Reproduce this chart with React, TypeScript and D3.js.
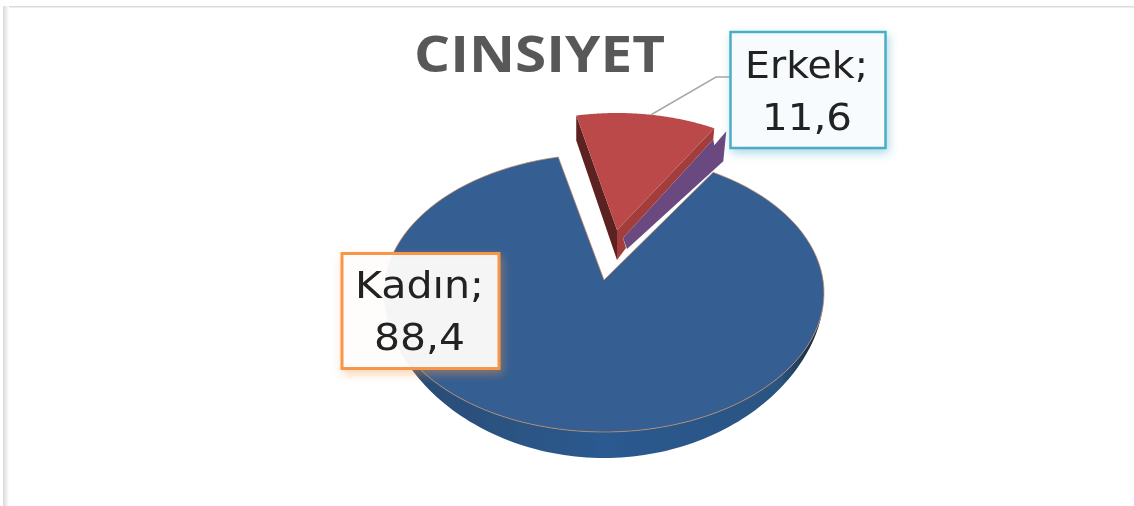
import React from "react";
import * as d3 from "d3";

const categories = ["Erkek", "Kadın"];
const values = [11.6, 88.4];
const valueLabels = ["11,6", "88,4"];
const title = "CINSIYET";

const W = 1134;
const H = 506;
const FONT = "'Open Sans', 'Noto Sans', sans-serif";
const LABEL_FONT = "'DejaVu Sans', sans-serif";
const rad = (deg: number) => (deg * Math.PI) / 180;

const arcs = d3
  .pie<number>()
  .sort(null)
  .startAngle(rad(-12))
  .endAngle(rad(348))(values);

type Disc = { cx: number; cy: number; rx: number; ry: number; ax: number; ay: number };
const blue: Disc = { cx: 604, cy: 293, rx: 220, ry: 139, ax: 604, ay: 280 };
const red: Disc = { cx: 617, cy: 229, rx: 196, ry: 116, ax: 617, ay: 230 };
const DEPTH = 26;

const rim = (d: Disc, a: number, dy = 0): [number, number] => [
  d.cx + d.rx * Math.sin(a),
  d.cy - d.ry * Math.cos(a) + dy,
];
const sample = (a0: number, a1: number) =>
  d3.range(0, 121).map((i) => d3.interpolateNumber(a0, a1)(i / 120));
const line = d3.line<[number, number]>();
const add = (p: [number, number], dx: number, dy: number): [number, number] => [p[0] + dx, p[1] + dy];
const depthAt = (a: number) => DEPTH * Math.pow(Math.max(0, -Math.cos(a)), 1.5);

const redArc = arcs[0];
const blueArc = arcs[1];

const blueTop =
  line([[blue.ax, blue.ay], ...sample(blueArc.startAngle, blueArc.endAngle).map((a) => rim(blue, a))])! + "Z";
const blueSide =
  line([
    ...sample(rad(90), rad(270)).map((a) => rim(blue, a)),
    ...sample(rad(270), rad(90)).map((a) => rim(blue, a, depthAt(a))),
  ])! + "Z";
const redTop =
  line([[red.ax, red.ay], ...sample(redArc.startAngle, redArc.endAngle).map((a) => rim(red, a))])! + "Z";

const rS = rim(red, redArc.startAngle);
const rE = rim(red, redArc.endAngle);
const rA: [number, number] = [red.ax, red.ay];

const redLeft = line([rS, add(rS, 0, 25), add(rA, 0, 30), rA])! + "Z";
const redRight = line([rE, add(rE, -1, 11), add(rA, 6, 8), add(rA, 9, 18), add(rA, 0, 30), rA])! + "Z";
const purple = line([add(rE, 12, 3), add(rE, 9, 33), add(rA, 10, 19), add(rA, 6, 8), add(rE, -1, 11), add(rE, 0, 17)])! + "Z";
const leader = line([rim(red, rad(10)), [716, 77], [731, 77]])!;

export default function App() {
  return (
    <svg
      width={W}
      height={H}
      viewBox={`0 0 ${W} ${H}`}
      style={{ position: "absolute", left: 0, top: 0, background: "#fff" }}
    >
      <defs>
        <filter id="soft" x="0" y="0" width="100%" height="100%">
          <feGaussianBlur stdDeviation="0.6" />
        </filter>
        <filter id="shadowTeal" x="-15%" y="-15%" width="130%" height="130%">
          <feDropShadow dx="2" dy="4" stdDeviation="5" floodColor="#4bacc6" floodOpacity="0.45" />
        </filter>
        <filter id="shadowOrange" x="-15%" y="-15%" width="130%" height="130%">
          <feDropShadow dx="2" dy="4" stdDeviation="5" floodColor="#f79646" floodOpacity="0.45" />
        </filter>
        <linearGradient id="sideGrad" x1="0" x2="1" y1="0" y2="0">
          <stop offset="0" stopColor="#2a4a70" />
          <stop offset="0.5" stopColor="#2b5a90" />
          <stop offset="0.9" stopColor="#2a5482" />
          <stop offset="1" stopColor="#151f2c" />
        </linearGradient>
        <linearGradient id="borderLeft" x1="0" x2="1" y1="0" y2="0">
          <stop offset="0" stopColor="#d8d8d8" />
          <stop offset="1" stopColor="#ffffff" />
        </linearGradient>
      </defs>
      <g filter="url(#soft)">
        <rect x={3} y={6} width={W - 3} height={1.5} fill="#dcdcdc" />
        <rect x={3} y={6} width={6} height={H - 6} fill="url(#borderLeft)" />

        <text
          x={414}
          y={72}
          textLength={251}
          lengthAdjust="spacingAndGlyphs"
          fontFamily={FONT}
          fontWeight={700}
          fontSize={50}
          fill="#595959"
        >
          {title}
        </text>

        <path d={blueSide} fill="url(#sideGrad)" />
        <path d={blueTop} fill="#345e92" stroke="#c58c62" strokeOpacity={0.75} strokeWidth={1} strokeLinejoin="round" />

        <path d={purple} fill="#6a4a80" />
        <path d={redLeft} fill="#5c2222" />
        <path d={redRight} fill="#a33d3b" />
        <path d={redTop} fill="#bc4a48" />

        <path d={leader} fill="none" stroke="#a8a8a8" strokeWidth={1.5} />

        <g filter="url(#shadowTeal)">
          <rect x={730.5} y={32} width={155} height={116} fill="#f8fbfd" stroke="#4bacc6" strokeWidth={2.5} />
        </g>
        <g fontFamily={LABEL_FONT} fontSize={38} fill="#222">
          <text x={745} y={78} textLength={123} lengthAdjust="spacingAndGlyphs">{categories[0]};</text>
          <text x={762} y={130} textLength={90} lengthAdjust="spacingAndGlyphs">{valueLabels[0]}</text>
        </g>

        <g filter="url(#shadowOrange)">
          <rect
            x={342}
            y={253.5}
            width={157}
            height={115}
            fill="#ffffff"
            fillOpacity={0.92}
            stroke="#f79646"
            strokeWidth={3}
          />
        </g>
        <g fontFamily={LABEL_FONT} fontSize={38} fill="#222">
          <text x={355} y={298} textLength={129} lengthAdjust="spacingAndGlyphs">{categories[1]};</text>
          <text x={374} y={350} textLength={91} lengthAdjust="spacingAndGlyphs">{valueLabels[1]}</text>
        </g>
      </g>
    </svg>
  );
}
